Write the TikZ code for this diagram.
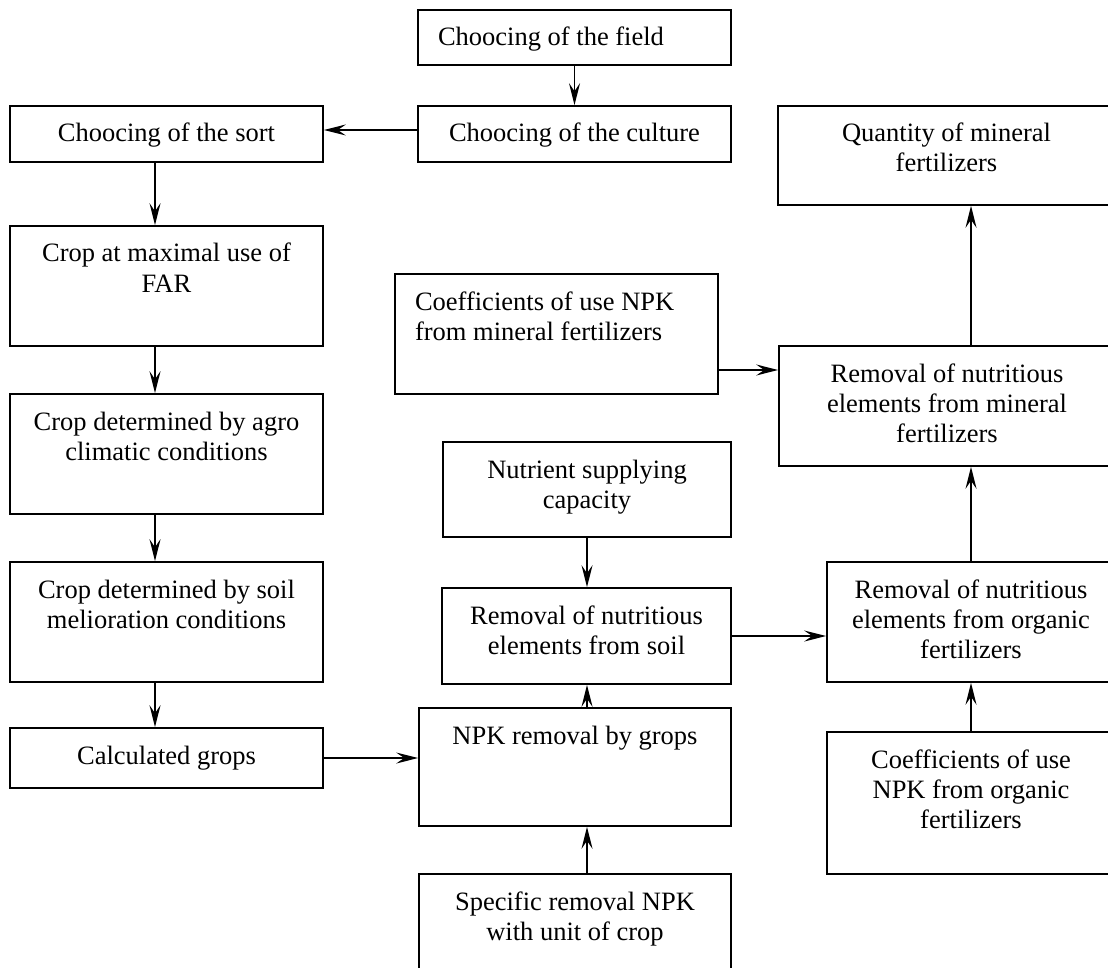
\documentclass[tikz,border=0pt]{standalone}
\usepackage{fontspec}
\setmainfont{Liberation Serif}
\usetikzlibrary{arrows.meta}
\newcommand{\boxc}[3]{\parbox[c][#2pt][t]{#1pt}{\centering\rule{0pt}{36pt}#3\par}}
\newcommand{\boxl}[3]{\parbox[c][#2pt][t]{#1pt}{\raggedright\leftskip=20pt\rule{0pt}{36pt}#3\par}}
\tikzset{
  fbox/.style={draw, line width=1.6pt, inner sep=0pt, font=\fontsize{26.5}{30}\selectfont},
  arr/.style={line width=1.5pt, -{Stealth[length=22pt,width=11pt,inset=8pt]}},
}
\begin{document}
\begin{tikzpicture}[x=1pt,y=-1pt]
\useasboundingbox (0,0) rectangle (1108,968);
\clip (0,0) rectangle (1108,968);
\fill[white] (0,0) rectangle (1108,968);
% left column
\node[fbox] (field) at (574.5,37.5) {\boxl{313}{55}{Choocing of the field}};
\node[fbox] (culture) at (574.5,134) {\boxc{313}{56}{Choocing of the culture}};
\node[fbox] (sort) at (166.5,134) {\boxc{313}{56}{Choocing of the sort}};
\node[fbox] (far) at (166.5,286) {\boxc{313}{120}{Crop at maximal use of\\FAR}};
\node[fbox] (agro) at (166.5,454) {\boxc{313}{120}{Crop determined by agro\\climatic conditions}};
\node[fbox] (soil) at (166.5,622) {\boxc{313}{120}{Crop determined by soil\\melioration conditions}};
\node[fbox] (calc) at (166.5,758) {\boxc{313}{60}{Calculated grops}};
% middle column
\node[fbox] (cm) at (556.5,334) {\boxl{323}{120}{Coefficients of use NPK\\from mineral fertilizers}};
\node[fbox] (nut) at (587,489.5) {\boxc{288}{95}{Nutrient supplying\\capacity}};
\node[fbox] (rsoil) at (586.5,636) {\boxc{289}{96}{Removal of nutritious\\elements from soil}};
\node[fbox] (npk) at (575,767) {\boxc{312}{118}{NPK removal by grops}};
\node[fbox] (spec) at (575,937) {\boxc{312}{126}{Specific removal NPK\\with unit of crop}};
% right column
\node[fbox] (quant) at (946.5,155.5) {\boxc{337}{99}{Quantity of mineral\\fertilizers}};
\node[fbox] (rmin) at (947,406) {\boxc{336}{120}{Removal of nutritious\\elements from mineral\\fertilizers}};
\node[fbox] (rorg) at (971,622) {\boxc{288}{120}{Removal of nutritious\\elements from organic\\fertilizers}};
\node[fbox] (corg) at (971,803) {\boxc{288}{142}{Coefficients of use\\NPK from organic\\fertilizers}};
% helper coordinates
\coordinate (lx) at (155,0);
\coordinate (mx) at (587,0);
\coordinate (rx) at (971,0);
\coordinate (c0) at (0,130);
\coordinate (c1) at ([yshift=-36pt]cm.east);
% connectors
\draw[arr] (field.south) -- (culture.north);
\draw[arr] (culture.west |- c0) -- (sort.east |- c0);
\draw[arr] (sort.south -| lx) -- (far.north -| lx);
\draw[arr] (far.south -| lx) -- (agro.north -| lx);
\draw[arr] (agro.south -| lx) -- (soil.north -| lx);
\draw[arr] (soil.south -| lx) -- (calc.north -| lx);
\draw[arr] (calc.east) -- (calc.east -| npk.west);
\draw[arr] (spec.north -| mx) -- (npk.south -| mx);
\draw[arr] (npk.north -| mx) -- (rsoil.south -| mx);
\draw[arr] (nut.south -| mx) -- (rsoil.north -| mx);
\draw[arr] (rsoil.east) -- (rsoil.east -| rorg.west);
\draw[arr] (corg.north -| rx) -- (rorg.south -| rx);
\draw[arr] (rorg.north -| rx) -- (rmin.south -| rx);
\draw[arr] (rmin.north -| rx) -- (quant.south -| rx);
\draw[arr] (c1) -- (c1 -| rmin.west);
\end{tikzpicture}
\end{document}
